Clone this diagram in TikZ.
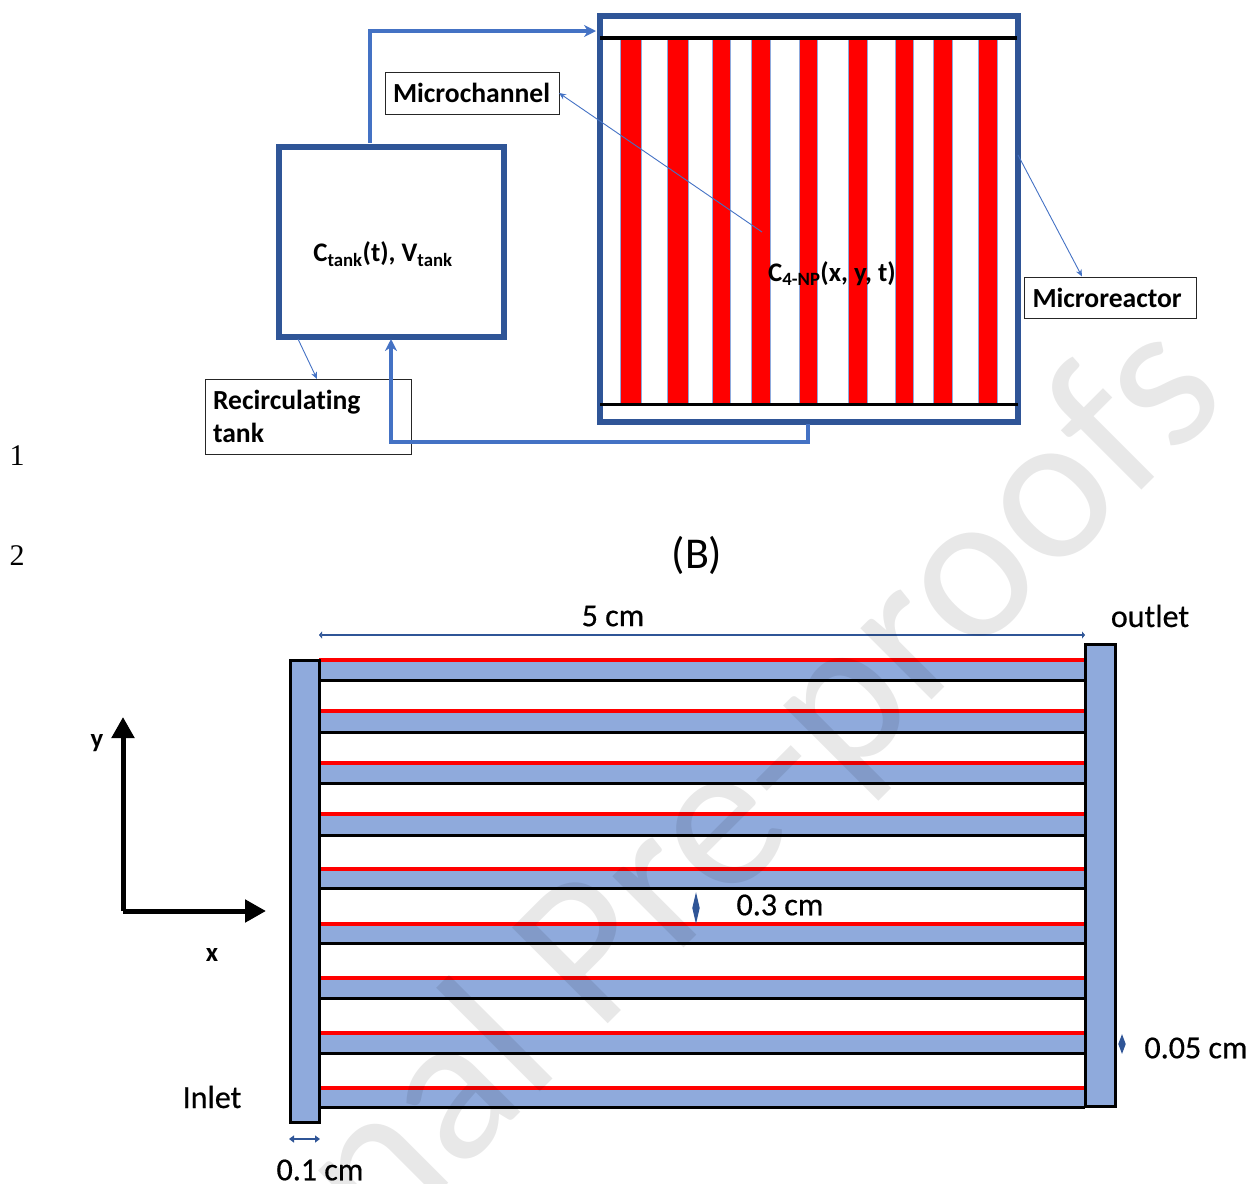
\documentclass[tikz,border=0pt]{standalone}
\usepackage{fontspec}
\setmainfont[Ligatures=NoCommon]{Carlito}
\newfontfamily\numfont{Liberation Serif}
\newfontfamily\dimfont[FakeBold=0.5,Ligatures=NoCommon]{Carlito}
\usetikzlibrary{arrows.meta,positioning}
\definecolor{boxblue}{HTML}{2F5597}
\definecolor{flowblue}{HTML}{4472C4}
\definecolor{chanblue}{HTML}{8FAADC}
\definecolor{barred}{HTML}{FF0000}
\tikzset{
  vessel/.style={rectangle,draw=boxblue,line width=6pt,inner sep=0pt,outer sep=0pt},
  header/.style={rectangle,draw=black,fill=chanblue,line width=3pt,inner sep=0pt,outer sep=0pt},
  tag/.style={rectangle,draw=black!85,line width=0.9pt,inner sep=0pt,outer sep=0pt,
    font=\fontsize{27.6}{33}\selectfont\bfseries,text=black,align=left},
  flowarrow/.style={-{Stealth[length=12pt,width=12pt]},line width=3.4pt,draw=flowblue},
  leader/.style={-{Stealth[length=7pt,width=6pt]},line width=0.9pt,draw=flowblue},
  dimarrow/.style={{Triangle[length=#1,width=7pt]}-{Triangle[length=#1,width=7pt]},line width=1.4pt,draw=boxblue},
  dimarrow/.default={5pt},
  axisarrow/.style={-{Triangle[length=21pt,width=22pt]},line width=5pt,draw=black},
  boldlabel/.style={font=\fontsize{26.8}{33}\selectfont\bfseries,inner sep=0pt},
  dimlabel/.style={font=\fontsize{32}{38}\selectfont\dimfont,inner sep=0pt},
}
\begin{document}
\begin{tikzpicture}[x=1pt,y=-1pt]
  \useasboundingbox (0,0) rectangle (1251,1184);
  % line numbers
  \node[font=\fontsize{30}{36}\selectfont\numfont,inner sep=0pt] (lineone) at (17,456) {1};
  \node[font=\fontsize{30}{36}\selectfont\numfont,inner sep=0pt] (linetwo) at (17,556) {2};

  % panel with the tank and the reactor
  \foreach \xl/\xr in {620/641,667/688,712/730,751/770,799/817,848/867,895/913,933/952,978/997}{
    \fill[barred] (\xl,38) rectangle (\xr,404);
    \draw[chanblue,line width=0.6pt] (\xl,38) -- (\xl,404) (\xr,38) -- (\xr,404);
  }
  \node[vessel,minimum width=418pt,minimum height=406pt] (reactor) at (809,219) {};
  \draw[black,line width=3.4pt] (600,38) -- (1017,38);
  \draw[black,line width=3.4pt] (600,404.5) -- (1018,404.5);
  \node[vessel,minimum width=225pt,minimum height=190pt] (tank) at (391.5,242) {};
  \node[boldlabel] (tanklabel) at (383,254) {C\textsubscript{tank}(t), V\textsubscript{tank}};
  \node[boldlabel] (conclabel) at (832,274) {C\textsubscript{4-NP}(x, y, t)};

  \node[tag,minimum width=174pt,minimum height=42pt,text width=158pt] (channeltag) at (472,93) {Microchannel};
  \node[tag,minimum width=172pt,minimum height=41pt,text width=155pt] (reactortag) at (1110,297.5) {Microreactor};
  \node[tag,minimum width=206pt,minimum height=75pt,text width=190pt] (tanktag) at (308,416.5) {Recirculating\\tank};

  \coordinate (feedin) at (596,31);
  \coordinate (feedout) at (370,143);
  \coordinate (backout) at (808,424);
  \coordinate (backin) at (391,339);
  \draw[flowarrow] (feedout) |- (feedin);
  \draw[flowarrow] (backout) -- (808,442) -| (backin);

  \coordinate (channelpoint) at (762,232);
  \coordinate (reactorpoint) at (1018,155);
  \coordinate (tankpoint) at (298,339);
  \draw[leader] (channelpoint) -- (channeltag.east);
  \draw[leader] (reactorpoint) -- (1082,276.5);
  \draw[leader] (tankpoint) -- (317,379);

  % panel with the channel plate
  \node[font=\fontsize{44}{52}\selectfont,inner sep=0pt] (panelb) at (697,555) {(B)};
  \foreach \ry/\by in {660/680,711/732,763/783,814/835,869/888,924/943,978/998,1033/1053,1088/1107}{
    \fill[chanblue] (319,\ry) rectangle (1085,\by);
    \draw[black,line width=3pt] (319,\by) -- (1085,\by);
    \draw[barred,line width=4pt] (319,\ry) -- (1085,\ry);
  }
  \node[header,minimum width=29pt,minimum height=462pt] (inlet) at (304.5,891.5) {};
  \node[header,minimum width=30pt,minimum height=462pt] (outlet) at (1100,875.5) {};

  \coordinate (origin) at (123,911);
  \draw[axisarrow] (origin) -- (123,717);
  \draw[axisarrow] (origin) -- (266,911);
  \node[boldlabel] (ylabel) at (97,743) {y};
  \node[boldlabel] (xlabel) at (212,955) {x};

  \node[dimlabel] (inletlabel) at (212,1097) {Inlet};
  \node[dimlabel] (outletlabel) at (1150,616) {outlet};
  \node[dimlabel] (lengthlabel) at (613,616) {5 cm};
  \node[dimlabel] (gaplabel) at (780,905) {0.3 cm};
  \node[dimlabel] (walllabel) at (1196,1048) {0.05 cm};
  \node[dimlabel] (headerlabel) at (320,1170) {0.1 cm};

  \draw[dimarrow=3pt,line width=1.8pt] (319,635) -- (1085,635);
  \draw[dimarrow] (289,1139) -- (320,1139);
  \draw[dimarrow=16pt] (696,892) -- (696,924);
  \draw[dimarrow=10pt] (1122,1034) -- (1122,1054);

  % stamp over everything
  \node[font=\fontsize{211}{211}\selectfont,text=black,text opacity=0.09,
    rotate=45,inner sep=0pt,anchor=base east] (stamp) at (1232,400) {Journal Pre-proofs};
\end{tikzpicture}
\end{document}
